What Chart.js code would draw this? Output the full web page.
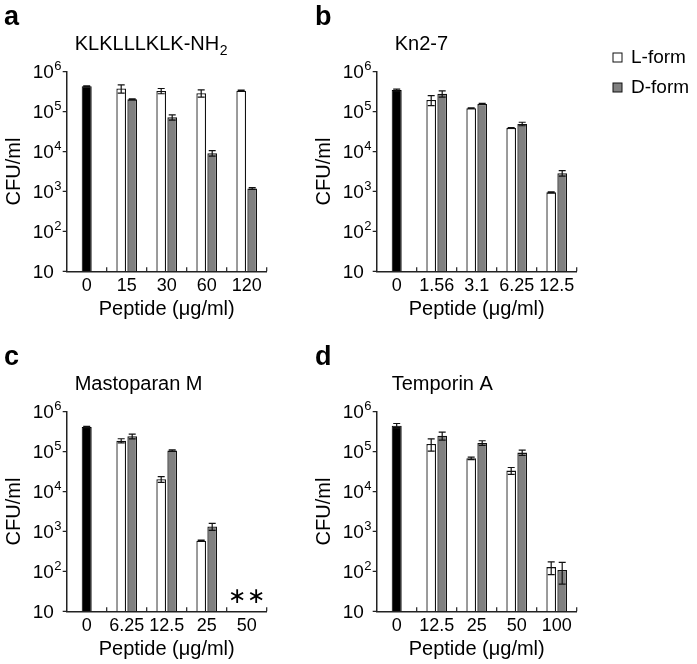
<!DOCTYPE html>
<html>
<head>
<meta charset="utf-8">
<script src="https://cdn.jsdelivr.net/npm/chart.js@4.4.1/dist/chart.umd.min.js"></script>
<style>
    body { margin: 0; background: #fff; width: 697px; height: 664px; position: relative; overflow: hidden; }
    canvas { position: absolute; }
</style>
</head>
<body>
<canvas id="chartA" width="300" height="340" style="left:0;top:0"></canvas>
<canvas id="chartB" width="397" height="340" style="left:300px;top:0"></canvas>
<canvas id="chartC" width="300" height="324" style="left:0;top:340px"></canvas>
<canvas id="chartD" width="397" height="324" style="left:300px;top:340px"></canvas>
<script>
var FONT = '"Liberation Sans", Arial, sans-serif';

// y axis (CFU/ml, log)
var yTickValues = [10, 1e2, 1e3, 1e4, 1e5, 1e6];

// a - KLKLLLKLK-NH2
var aLabels = ['0', '15', '30', '60', '120'];
var aControl = [4.3e5, null, null, null, null];
var aControlErr = [1.5e4, null, null, null, null];
var aLForm = [null, 3.8e5, 3.3e5, 2.9e5, 3.35e5];
var aLErr = [null, 9e4, 5e4, 6e4, 1e4];
var aDForm = [null, 2.03e5, 7.2e4, 9.1e3, 1.19e3];
var aDErr = [null, 5e3, 1.1e4, 1.4e3, 60];

// b - Kn2-7
var bLabels = ['0', '1.56', '3.1', '6.25', '12.5'];
var bControl = [3.48e5, null, null, null, null];
var bControlErr = [2e4, null, null, null, null];
var bLForm = [null, 1.96e5, 1.21e5, 3.9e4, 950];
var bLErr = [null, 5.5e4, 3e3, 1e3, 30];
var bDForm = [null, 2.82e5, 1.56e5, 4.92e4, 2.87e3];
var bDErr = [null, 5e4, 5e3, 5e3, 450];

// c - Mastoparan M (50 ug/ml: nothing detected)
var cLabels = ['0', '6.25', '12.5', '25', '50'];
var cControl = [4.14e5, null, null, null, null];
var cControlErr = [1.5e4, null, null, null, null];
var cLForm = [null, 1.88e5, 2.03e4, 585, null];
var cLErr = [null, 2.2e4, 3.4e3, 20, null];
var cDForm = [null, 2.42e5, 1.06e5, 1.33e3, null];
var cDErr = [null, 3.3e4, 4e3, 260, null];
var cNotDetected = [false, false, false, false, true];

// d - Temporin A
var dLabels = ['0', '12.5', '25', '50', '100'];
var dControl = [4.47e5, null, null, null, null];
var dControlErr = [6e4, null, null, null, null];
var dLForm = [null, 1.56e5, 6.8e4, 3.35e4, 128];
var dLErr = [null, 5.3e4, 5e3, 6.5e3, 45];
var dDForm = [null, 2.51e5, 1.65e5, 9.44e4, 108];
var dDErr = [null, 5.8e4, 2.2e4, 1.45e4, 60];

buildChart('chartA', {letter: 'a', letterX: 4, title: 'KLKLLLKLK-NH', titleSub: '2', titleX: 8, plotLeft: 66.7,
    labels: aLabels, control: aControl, controlErr: aControlErr, l: aLForm, lErr: aLErr, d: aDForm, dErr: aDErr});
buildChart('chartB', {letter: 'b', letterX: 15, title: 'Kn2-7', titleX: 18, plotLeft: 76.7, legend: true,
    labels: bLabels, control: bControl, controlErr: bControlErr, l: bLForm, lErr: bLErr, d: bDForm, dErr: bDErr});
buildChart('chartC', {letter: 'c', letterX: 4, title: 'Mastoparan M', titleX: 8, plotLeft: 66.7, stars: cNotDetected,
    labels: cLabels, control: cControl, controlErr: cControlErr, l: cLForm, lErr: cLErr, d: cDForm, dErr: cDErr});
buildChart('chartD', {letter: 'd', letterX: 15, title: 'Temporin A', titleX: 15, plotLeft: 76.7,
    labels: dLabels, control: dControl, controlErr: dControlErr, l: dLForm, lErr: dLErr, d: dDForm, dErr: dDErr});

function buildChart(id, cfg) {
    var canvas = document.getElementById(id);
    var plotTop = 71.7, plotBottom = 271.3, plotWidth = 200;

    var textPlugin = {
        id: 'panelText',
        afterDraw: function (chart) {
            drawExtras(chart, cfg);
        }
    };

    new Chart(canvas.getContext('2d'), {
        type: 'bar',
        data: {
            labels: cfg.labels,
            datasets: [
                {label: 'Control', data: cfg.control, errors: cfg.controlErr, grouped: false,
                    backgroundColor: '#000', borderColor: '#000', borderWidth: 1,
                    categoryPercentage: 0.5, barPercentage: 0.5},
                {label: 'L-form', data: cfg.l, errors: cfg.lErr,
                    backgroundColor: '#fff', borderColor: '#111', borderWidth: 1.3,
                    categoryPercentage: 0.55, barPercentage: 0.88},
                {label: 'D-form', data: cfg.d, errors: cfg.dErr,
                    backgroundColor: '#808080', borderColor: '#111', borderWidth: 1.3,
                    categoryPercentage: 0.55, barPercentage: 0.88}
            ]
        },
        options: {
            responsive: false,
            animation: false,
            devicePixelRatio: 1,
            layout: {
                padding: {
                    left: cfg.plotLeft,
                    top: plotTop,
                    right: canvas.width - cfg.plotLeft - plotWidth,
                    bottom: canvas.height - plotBottom
                }
            },
            plugins: {legend: {display: false}, tooltip: {enabled: false}},
            scales: {
                x: {
                    offset: true,
                    grid: {display: false},
                    ticks: {display: false},
                    border: {display: true, color: '#222', width: 1.5},
                    afterFit: function (s) { s.height = 0; }
                },
                y: {
                    type: 'logarithmic',
                    min: 10,
                    max: 1e6,
                    grid: {display: false},
                    ticks: {display: false},
                    border: {display: true, color: '#222', width: 1.5},
                    afterFit: function (s) { s.width = 0; }
                }
            }
        },
        plugins: [textPlugin]
    });
}

function drawExtras(chart, cfg) {
    var ctx = chart.ctx;
    var area = chart.chartArea;
    var xs = chart.scales.x;
    var ys = chart.scales.y;
    ctx.save();

    // error bars
    ctx.strokeStyle = '#111';
    ctx.lineWidth = 1.2;
    chart.data.datasets.forEach(function (ds, di) {
        var meta = chart.getDatasetMeta(di);
        ds.errors.forEach(function (e, i) {
            var v = ds.data[i];
            if (v == null || !e) return;
            var x = meta.data[i].x;
            var yt = ys.getPixelForValue(v + e);
            var yb = ys.getPixelForValue(Math.max(v - e, 10));
            ctx.beginPath();
            ctx.moveTo(x, yt); ctx.lineTo(x, yb);
            ctx.moveTo(x - 3.5, yt); ctx.lineTo(x + 3.5, yt);
            ctx.moveTo(x - 3.5, yb); ctx.lineTo(x + 3.5, yb);
            ctx.stroke();
        });
    });

    // axis ticks
    ctx.strokeStyle = '#222';
    ctx.lineWidth = 1.2;
    var half = (xs.getPixelForValue(1) - xs.getPixelForValue(0)) / 2;
    ctx.beginPath();
    yTickValues.forEach(function (v) {
        var y = ys.getPixelForValue(v);
        ctx.moveTo(area.left - 4, y); ctx.lineTo(area.left, y);
    });
    cfg.labels.forEach(function (lab, i) {
        var x = xs.getPixelForValue(i) + half;
        ctx.moveTo(x, area.bottom); ctx.lineTo(x, area.bottom - 4);
    });
    ctx.stroke();

    ctx.fillStyle = '#000';

    // y tick labels 10^n
    ctx.textAlign = 'left';
    ctx.textBaseline = 'middle';
    yTickValues.forEach(function (v) {
        var y = ys.getPixelForValue(v);
        var exp = Math.round(Math.log10(v));
        ctx.font = '19px ' + FONT;
        ctx.fillText('10', area.left - 34, y + 1);
        if (exp > 1) {
            var w = ctx.measureText('10').width;
            ctx.font = '13px ' + FONT;
            ctx.fillText(String(exp), area.left - 34 + w + 0.5, y - 5);
        }
    });

    // x tick labels
    ctx.textAlign = 'center';
    ctx.font = '18px ' + FONT;
    cfg.labels.forEach(function (lab, i) {
        ctx.fillText(lab, xs.getPixelForValue(i), area.bottom + 15);
    });

    // axis titles
    ctx.font = '20px ' + FONT;
    ctx.fillText('Peptide (\u03bcg/ml)', (area.left + area.right) / 2, area.bottom + 38);
    ctx.save();
    ctx.translate(area.left - 52, (area.top + area.bottom) / 2);
    ctx.rotate(-Math.PI / 2);
    ctx.fillText('CFU/ml', 0, 0);
    ctx.restore();

    // panel title
    ctx.textAlign = 'left';
    ctx.textBaseline = 'alphabetic';
    ctx.font = '20px ' + FONT;
    var tx = area.left + cfg.titleX;
    ctx.fillText(cfg.title, tx, 50);
    if (cfg.titleSub) {
        var tw = ctx.measureText(cfg.title).width;
        ctx.font = '14px ' + FONT;
        ctx.fillText(cfg.titleSub, tx + tw + 0.5, 55);
    }

    // panel letter
    ctx.font = 'bold 27px ' + FONT;
    ctx.fillText(cfg.letter, cfg.letterX, 25);

    // not detected marks
    if (cfg.stars) {
        ctx.textAlign = 'center';
        ctx.textBaseline = 'middle';
        ctx.font = '22px "DejaVu Sans", sans-serif';
        cfg.stars.forEach(function (s, i) {
            if (!s) return;
            var cx = xs.getPixelForValue(i);
            ctx.fillText('\u2217', cx - 9.5, area.bottom - 14);
            ctx.fillText('\u2217', cx + 9.5, area.bottom - 14);
        });
    }

    // legend
    if (cfg.legend) {
        ctx.textAlign = 'left';
        ctx.textBaseline = 'middle';
        ctx.font = '19px ' + FONT;
        [1, 2].forEach(function (di, k) {
            var ds = chart.data.datasets[di];
            var by = 53 + k * 30;
            ctx.fillStyle = ds.backgroundColor;
            ctx.fillRect(313, by, 9, 9);
            ctx.strokeStyle = '#111';
            ctx.lineWidth = 1;
            ctx.strokeRect(313, by, 9, 9);
            ctx.fillStyle = '#000';
            ctx.fillText(ds.label, 331, by + 5);
        });
    }

    ctx.restore();
}
</script>
</body>
</html>
